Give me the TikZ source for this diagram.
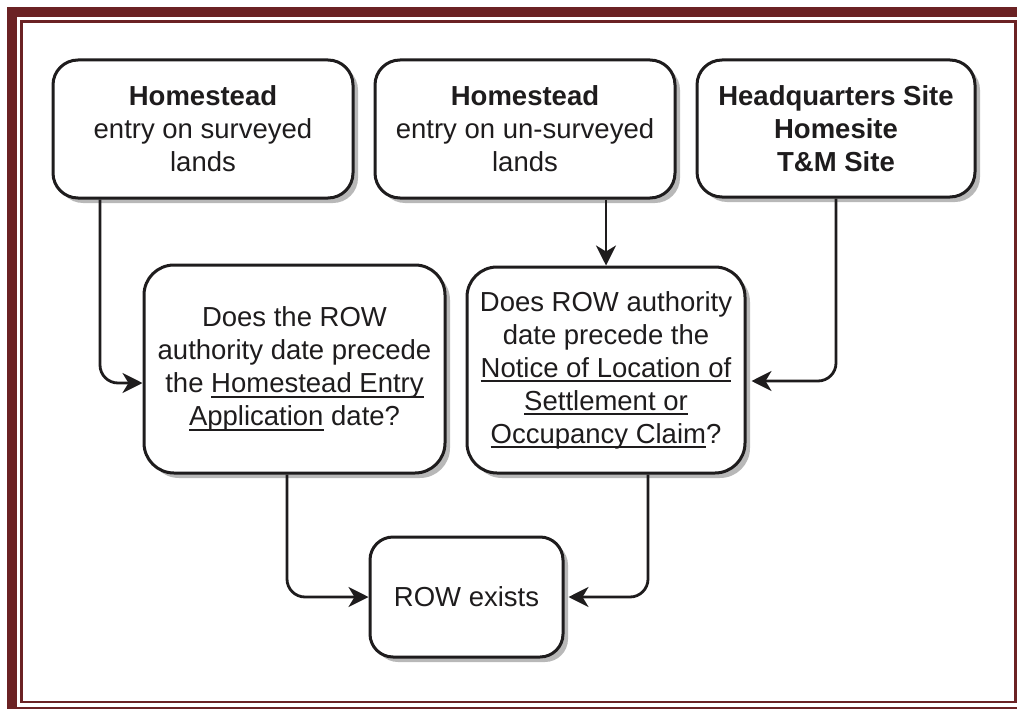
\documentclass[tikz,border=0pt]{standalone}
\usepackage{fontspec}
\setmainfont{Liberation Sans}
\usetikzlibrary{arrows.meta,shadows}
\definecolor{framecol}{RGB}{107,34,36}
\definecolor{ink}{RGB}{30,28,29}
\newsavebox\ulbox
\newcommand{\myul}[1]{\sbox\ulbox{#1}\rlap{\rule[-5pt]{\wd\ulbox}{2pt}}\usebox\ulbox}
\tikzset{
  box/.style={draw=ink, line width=3pt, rounded corners=25pt, fill=white, text=ink,
    align=center, inner sep=0pt,
    font=\fontsize{27.5}{33}\selectfont,
    drop shadow={shadow xshift=5pt, shadow yshift=-5pt, fill=black!28, opacity=1}},
  conn/.style={draw=ink, line width=2.8pt, rounded corners=18pt,
    -{Stealth[length=20pt,width=20pt,inset=6pt]}}
}
\begin{document}
\begin{tikzpicture}[x=1pt,y=-1pt]
\useasboundingbox (0,0) rectangle (1017,709);
% frame
\draw[framecol, line width=10pt] (12,12) rectangle (1025,711.7);
\draw[framecol, line width=2.6pt] (21.4,21.4) rectangle (1015.6,702);
% boxes
\node[box, minimum width=300pt, minimum height=138pt] (b1) at (203,129)
  {\textbf{Homestead}\\entry on surveyed\\lands};
\node[box, minimum width=300pt, minimum height=138pt] (b2) at (525,129)
  {\textbf{Homestead}\\entry on un-surveyed\\lands};
\node[box, minimum width=278pt, minimum height=137pt] (b3) at (836,128.5)
  {\textbf{Headquarters Site}\\\textbf{Homesite}\\\textbf{T\&M Site}};
\node[box, rounded corners=30pt, minimum width=301pt, minimum height=208pt] (b4) at (294.5,369)
  {Does the ROW\\authority date precede\\the \myul{Homestead Entry}\\\myul{Application} date?};
\node[box, rounded corners=30pt, minimum width=278pt, minimum height=206pt] (b5) at (606,370)
  {Does ROW authority\\date precede the\\\myul{Notice of Location of}\\\myul{Settlement or}\\\myul{Occupancy Claim}?};
\node[box, rounded corners=23pt, minimum width=193pt, minimum height=120pt] (b6) at (466.5,597)
  {ROW exists};
% connectors
\draw[conn] ([xshift=-103pt]b1.south) |- ([yshift=-14pt]b4.west);
\draw[conn] ([xshift=81pt]b2.south) -- (b5.north);
\draw[conn, shorten >=5pt] (b3.south) |- ([yshift=-11pt]b5.east);
\draw[conn] ([xshift=-7.5pt]b4.south) |- (b6.west);
\draw[conn, shorten >=4pt] ([xshift=42pt]b5.south) |- (b6.east);
\end{tikzpicture}
\end{document}
